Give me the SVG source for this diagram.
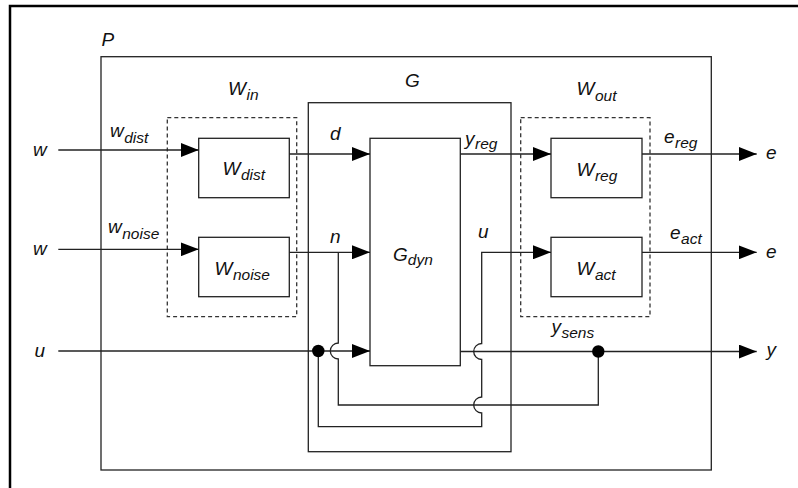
<svg xmlns="http://www.w3.org/2000/svg" width="798" height="488" viewBox="0 0 798 488">
<defs>
<style>
.t{font-family:"Liberation Sans",Arial,sans-serif;font-style:italic;font-size:19px;fill:#111}
.s{font-size:15.5px}
.box{fill:none;stroke:#222;stroke-width:1.3}
.dash{fill:none;stroke:#333;stroke-width:1.3;stroke-dasharray:4,3}
.ln{fill:none;stroke:#222;stroke-width:1.3}
.arr{marker-end:url(#ah)}
</style>
<marker id="ah" markerUnits="userSpaceOnUse" markerWidth="18" markerHeight="14" refX="18" refY="7" orient="auto">
<path d="M0,0 L18,7 L0,14 z" fill="#000"/>
</marker>
</defs>
<rect width="798" height="488" fill="#fff"/>
<rect x="10" y="6" width="800" height="500" fill="none" stroke="#000" stroke-width="2.5"/>

<g id="P">
<rect class="box" x="101" y="56.7" width="610.3" height="413.3"/>
<text class="t" x="101.5" y="46">P</text>
</g>
<g id="G">
<rect class="box" x="308.3" y="102.7" width="202.7" height="349"/>
<text class="t" x="405" y="86.7">G</text>
</g>
<g id="Gdyn">
<rect class="box" x="370" y="138.3" width="90.3" height="227.4"/>
<text class="t" x="393" y="260.7">G<tspan class="s" dy="4.5">dyn</tspan></text>
</g>
<g id="Win">
<rect class="dash" x="167.3" y="117.7" width="129.4" height="199"/>
<text class="t" x="228" y="94.5">W<tspan class="s" dy="5.5" dx="0.5">in</tspan></text>
</g>
<g id="Wdist">
<rect class="box" x="198.7" y="138.3" width="90.6" height="59.4"/>
<text class="t" x="222.5" y="175">W<tspan class="s" dy="5" dx="0.5">dist</tspan></text>
</g>
<g id="Wnoise">
<rect class="box" x="198.7" y="237.3" width="90.6" height="59.4"/>
<text class="t" x="214.5" y="275">W<tspan class="s" dy="5" dx="0.5">noise</tspan></text>
</g>
<g id="Wout">
<rect class="dash" x="520.7" y="117.7" width="129.3" height="199"/>
<text class="t" x="576.5" y="95">W<tspan class="s" dy="5.5" dx="0.5">out</tspan></text>
</g>
<g id="Wreg">
<rect class="box" x="551" y="138.3" width="91" height="59.4"/>
<text class="t" x="576.5" y="175.5">W<tspan class="s" dy="5" dx="0.5">reg</tspan></text>
</g>
<g id="Wact">
<rect class="box" x="551" y="237.3" width="91" height="59.4"/>
<text class="t" x="576.5" y="275">W<tspan class="s" dy="5" dx="0.5">act</tspan></text>
</g>

<g id="connectors">
<path class="ln arr" d="M58.3,150 H198.7"/>
<path class="ln arr" d="M58.3,249.3 H198.7"/>
<path class="ln arr" d="M289.3,154 H370"/>
<path class="ln arr" d="M289.3,252.3 H370"/>
<path class="ln arr" d="M58.3,351 H370"/>
<path class="ln arr" d="M460.3,154 H551"/>
<path class="ln arr" d="M642,154 H756.7"/>
<path class="ln arr" d="M642,252.3 H756.7"/>
<path class="ln arr" d="M460.3,351.5 H756.7"/>
<path class="ln arr" d="M318.3,351 V426.7 H481.7 V413 a8,8 0 0 1 0,-16 V359.5 a8,8 0 0 1 0,-16 V252.3 H551"/>
<path class="ln" d="M598.3,351.5 V405 H338.3 V359 a8,8 0 0 1 0,-16 V252.3"/>
<circle cx="318.3" cy="351" r="6.2" fill="#000"/>
<circle cx="598.3" cy="351.5" r="6.2" fill="#000"/>
</g>

<g id="labels">
<text class="t" x="33" y="156">w</text>
<text class="t" x="33" y="255">w</text>
<text class="t" x="34.5" y="357">u</text>
<text class="t" x="110" y="137">w<tspan class="s" dy="5.5" dx="0.5">dist</tspan></text>
<text class="t" x="108" y="233">w<tspan class="s" dy="6" dx="0.5">noise</tspan></text>
<text class="t" x="330" y="140">d</text>
<text class="t" x="330" y="242.5">n</text>
<text class="t" x="465" y="144.5">y<tspan class="s" dy="4.5" dx="0.5">reg</tspan></text>
<text class="t" x="478" y="237.5">u</text>
<text class="t" x="664" y="143">e<tspan class="s" dy="4.5" dx="0.5">reg</tspan></text>
<text class="t" x="670" y="239">e<tspan class="s" dy="4.5" dx="0.5">act</tspan></text>
<text class="t" x="551.5" y="333">y<tspan class="s" dy="4.5" dx="0.5">sens</tspan></text>
<text class="t" x="766" y="159">e</text>
<text class="t" x="766" y="257.5">e</text>
<text class="t" x="766.5" y="356">y</text>
</g>
</svg>
